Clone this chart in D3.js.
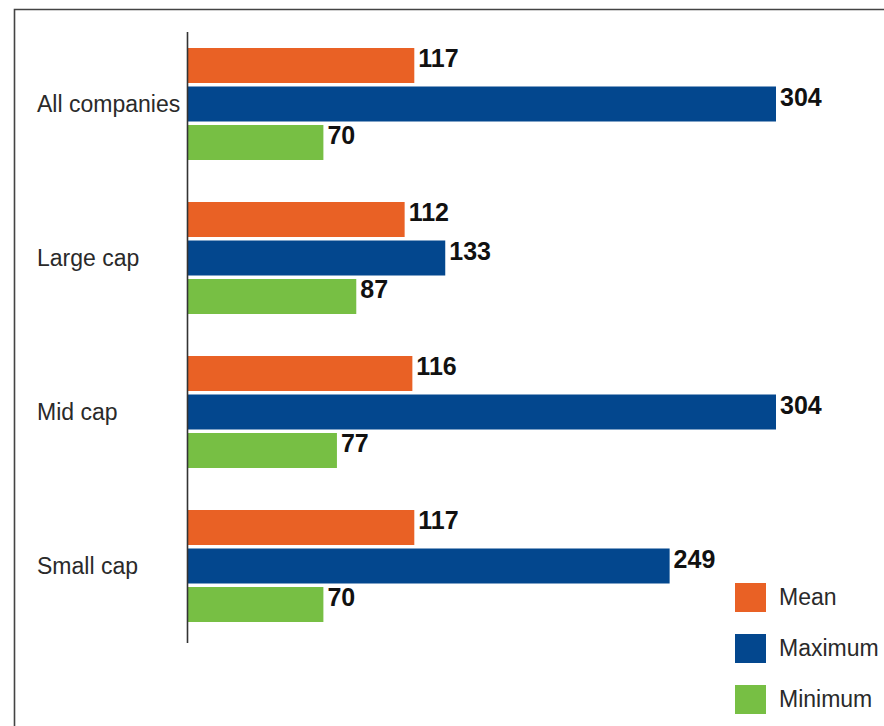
<!DOCTYPE html>
<html>
<head>
<meta charset="utf-8">
<script src="https://cdn.jsdelivr.net/npm/d3@7"></script>
<style>
  html, body { margin: 0; padding: 0; background: #fff; }
  svg { display: block; }
</style>
</head>
<body>
<svg id="chart" width="884" height="726"></svg>
<script>
// Company groups and the three statistics shown for each
const categories = ["All companies", "Large cap", "Mid cap", "Small cap"];
const seriesNames = ["Mean", "Maximum", "Minimum"];
const meanValues = [117, 112, 116, 117];
const maxValues = [304, 133, 304, 249];
const minValues = [70, 87, 77, 70];
const seriesColors = ["#e96125", "#03478e", "#77bf44"];

const seriesValues = [meanValues, maxValues, minValues];
const rows = categories.map((c, i) => ({
  category: c,
  values: seriesNames.map((s, k) => ({ series: s, value: seriesValues[k][i], color: seriesColors[k] }))
}));

const svg = d3.select("#chart");

// Outer frame (top and left edges)
svg.append("path")
  .attr("d", "M14.5,740 L14.5,9.5 L890,9.5")
  .attr("fill", "none")
  .attr("stroke", "#444")
  .attr("stroke-width", 1.6);

const x = d3.scaleLinear().domain([0, 304]).range([188, 776]);

const y0 = d3.scaleBand()
  .domain(categories)
  .range([27, 643])
  .paddingInner(42 / 154)
  .paddingOuter(21 / 154);

const y1 = d3.scaleBand()
  .domain(seriesNames)
  .range([0, y0.bandwidth()])
  .paddingInner(3.5 / 38.5)
  .paddingOuter(0);

const groups = svg.selectAll("g.group")
  .data(rows)
  .join("g")
  .attr("class", "group")
  .attr("transform", d => `translate(0,${y0(d.category)})`);

groups.selectAll("rect")
  .data(d => d.values)
  .join("rect")
  .attr("x", x(0))
  .attr("y", d => y1(d.series))
  .attr("width", d => x(d.value) - x(0))
  .attr("height", y1.bandwidth())
  .attr("fill", d => d.color);

groups.selectAll("text.value")
  .data(d => d.values)
  .join("text")
  .attr("class", "value")
  .attr("x", d => x(d.value) + 4)
  .attr("y", d => y1(d.series) + 19)
  .attr("font-family", "Liberation Sans, Arial, sans-serif")
  .attr("font-weight", "bold")
  .attr("font-size", 25)
  .attr("fill", "#111")
  .text(d => d.value);

// Category labels
svg.selectAll("text.cat")
  .data(categories)
  .join("text")
  .attr("class", "cat")
  .attr("x", 37)
  .attr("y", d => y0(d) + y0.bandwidth() / 2)
  .attr("dy", "0.35em")
  .attr("font-family", "Liberation Sans, Arial, sans-serif")
  .attr("font-size", 23)
  .attr("fill", "#2a2a2a")
  .text(d => d);

// Vertical axis line
svg.append("line")
  .attr("x1", 187.5).attr("x2", 187.5)
  .attr("y1", 32).attr("y2", 643)
  .attr("stroke", "#333")
  .attr("stroke-width", 1.6);

// Legend
const legend = svg.selectAll("g.legend")
  .data(seriesNames)
  .join("g")
  .attr("class", "legend")
  .attr("transform", (d, i) => `translate(735,${583 + i * 51})`);

legend.append("rect")
  .attr("width", 31)
  .attr("height", 29)
  .attr("fill", (d, i) => seriesColors[i]);

legend.append("text")
  .attr("x", 44)
  .attr("y", 22)
  .attr("font-family", "Liberation Sans, Arial, sans-serif")
  .attr("font-size", 23)
  .attr("fill", "#2a2a2a")
  .text(d => d);
</script>
</body>
</html>
